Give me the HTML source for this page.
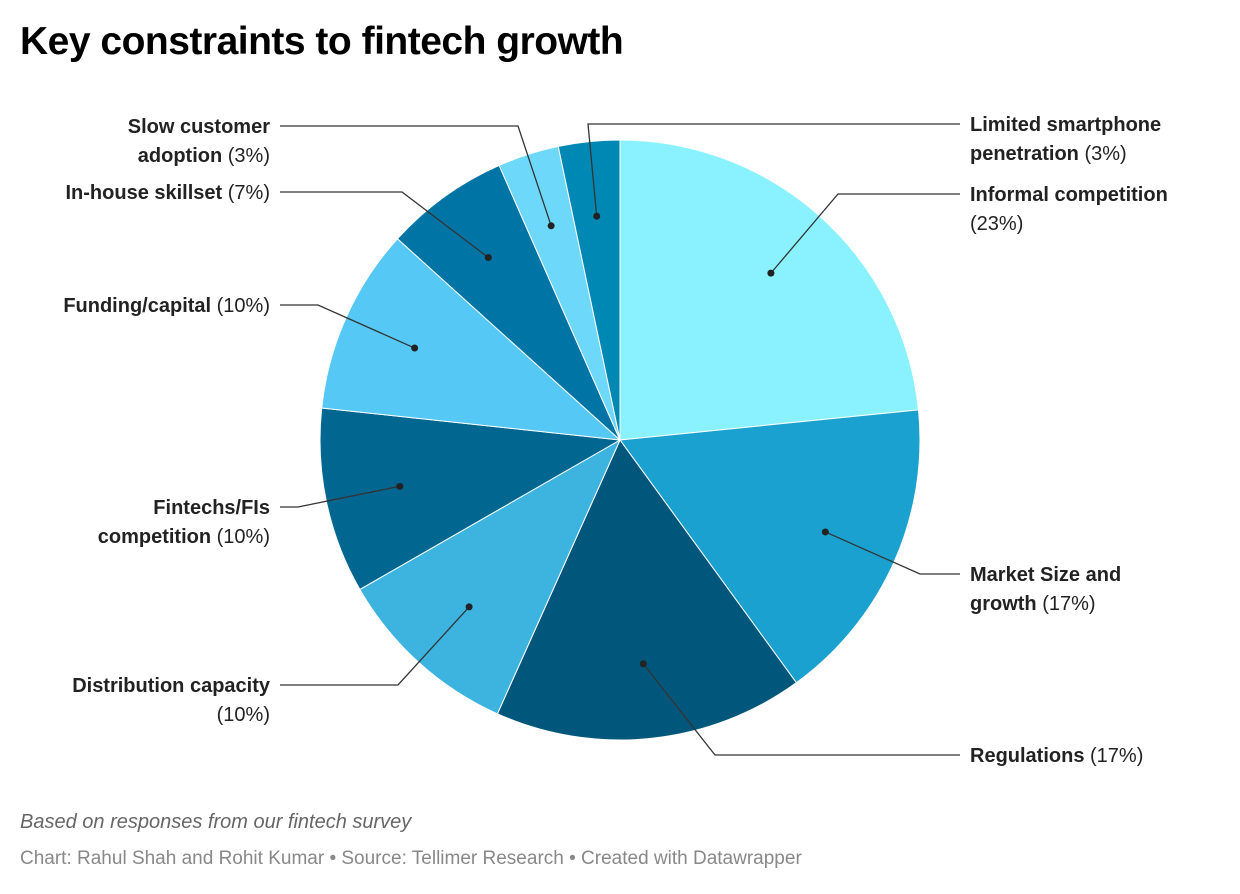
<!DOCTYPE html>
<html><head><meta charset="utf-8"><style>
body{margin:0;background:#fff;width:1240px;height:894px;overflow:hidden;font-family:"Liberation Sans",Arial,sans-serif}
.t{position:absolute;left:20px;top:20px;font-size:39px;font-weight:bold;color:#000;letter-spacing:-0.5px}
.n{position:absolute;left:20px;top:811px;font-size:20px;font-style:italic;color:#666}
.s{position:absolute;left:20px;top:848px;font-size:19px;color:#888}
svg{position:absolute;left:0;top:0}
</style></head><body>
<div class="t">Key constraints to fintech growth</div>
<svg id="c" width="1240" height="894"></svg>
<div class="n">Based on responses from our fintech survey</div>
<div class="s">Chart: Rahul Shah and Rohit Kumar • Source: Tellimer Research • Created with Datawrapper</div>
<script>
const categories=["Informal competition","Market Size and growth","Regulations","Distribution capacity","Fintechs/FIs competition","Funding/capital","In-house skillset","Slow customer adoption","Limited smartphone penetration"];
const values=[23.4,16.6,16.7,10,10,10,6.7,3.3,3.3];
const pctLabels=["23%","17%","17%","10%","10%","10%","7%","3%","3%"];
const colors=["#8af2ff","#1ba1cf","#01567c","#3db4e0","#016791","#55c8f5","#0074a4","#6dd8fa","#0088b5"];
// label layout: elbow point, side, label lines (bold, tail)
const layout=[
 {ex:838,ey:194,side:"r",lines:[["Informal competition",""],["","(23%)"]]},
 {ex:920,ey:574,side:"r",lines:[["Market Size and",""],["growth"," (17%)"]]},
 {ex:715,ey:755,side:"r",lines:[["Regulations"," (17%)"]]},
 {ex:398,ey:685,side:"l",lines:[["Distribution capacity",""],["","(10%)"]]},
 {ex:298,ey:507,side:"l",lines:[["Fintechs/FIs",""],["competition"," (10%)"]]},
 {ex:318,ey:305,side:"l",lines:[["Funding/capital"," (10%)"]]},
 {ex:402,ey:192,side:"l",lines:[["In-house skillset"," (7%)"]]},
 {ex:518,ey:126,side:"l",lines:[["Slow customer",""],["adoption"," (3%)"]]},
 {ex:588,ey:124,side:"r",lines:[["Limited smartphone",""],["penetration"," (3%)"]]}
];
const svg=document.getElementById('c'),NS="http://www.w3.org/2000/svg";
const cx=620,cy=440,R=300;
const total=values.reduce((a,b)=>a+b,0);
function pt(a,r){return [cx+r*Math.sin(a),cy-r*Math.cos(a)];}
let acc=0;
values.forEach((v,i)=>{
 const a0=acc/total*2*Math.PI;acc+=v;const a1=acc/total*2*Math.PI;
 const p0=pt(a0,R),p1=pt(a1,R);
 const p=document.createElementNS(NS,'path');
 p.setAttribute('d',`M${cx},${cy}L${p0[0]},${p0[1]}A${R},${R} 0 ${a1-a0>Math.PI?1:0} 1 ${p1[0]},${p1[1]}Z`);
 p.setAttribute('fill',colors[i]);p.setAttribute('stroke','#fff');p.setAttribute('stroke-width','1');
 
 
 svg.appendChild(p);
});
acc=0;
values.forEach((v,i)=>{
 const am=(acc+v/2)/total*2*Math.PI;acc+=v;
 const d=pt(am,0.75*R),L=layout[i];
 const lx=L.side==="r"?960:280;
 const pl=document.createElementNS(NS,'polyline');
 pl.setAttribute('points',`${d[0]},${d[1]} ${L.ex},${L.ey} ${lx},${L.ey}`);
 pl.setAttribute('fill','none');pl.setAttribute('stroke','#333');pl.setAttribute('stroke-width','1.3');
 
 
 svg.appendChild(pl);
 const c=document.createElementNS(NS,'circle');
 c.setAttribute('cx',d[0]);c.setAttribute('cy',d[1]);c.setAttribute('r','3.5');c.setAttribute('fill','#222');
 
 
 svg.appendChild(c);
 const tx=document.createElementNS(NS,'text');
 tx.setAttribute('x',L.side==="r"?970:270);
 tx.setAttribute('text-anchor',L.side==="r"?"start":"end");
 tx.setAttribute('font-size','20');tx.setAttribute('fill','#222');
 
 
 L.lines.forEach((ln,j)=>{
  const y=L.ey+7+j*29;
  if(ln[0]){const s=document.createElementNS(NS,'tspan');s.setAttribute('x',L.side==="r"?970:270);s.setAttribute('y',y);s.setAttribute('font-weight','bold');s.textContent=ln[0];tx.appendChild(s);
   if(ln[1]){const s2=document.createElementNS(NS,'tspan');s2.textContent=ln[1];tx.appendChild(s2);}}
  else{const s=document.createElementNS(NS,'tspan');s.setAttribute('x',L.side==="r"?970:270);s.setAttribute('y',y);s.textContent=ln[1];tx.appendChild(s);}
 });
 svg.appendChild(tx);
});
</script>
</body></html>
